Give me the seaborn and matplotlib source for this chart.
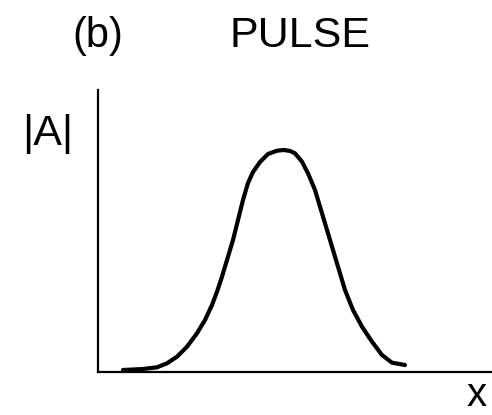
import matplotlib
matplotlib.use("Agg")
import matplotlib.pyplot as plt
import seaborn as sns
import pandas as pd

# Pulse profile (arbitrary units: position, |A|)
pos = [25, 45, 59, 69, 79, 89, 99, 107, 114, 119, 124, 129, 135, 140, 145, 150, 155,
       162, 170, 179, 186, 192, 197, 204, 210, 217, 222, 227, 232, 237, 241, 247, 255,
       264, 274, 284, 294, 307]
amp = [2, 3, 4.7, 8.7, 15.3, 25.3, 38.7, 52, 67, 80.3, 95.3, 112, 132, 152, 172, 189, 200,
       210, 218, 221.3, 222, 221, 218.7, 210.3, 198.7, 182, 165.3, 148.7, 132, 115.3, 102, 82, 62,
       45.3, 30.3, 17, 9.3, 7]

panel_label = "(b)"
title = "PULSE"
ylabel = "|A|"
xlabel = "x"

sns.set_style("white")
plt.rcParams["font.family"] = ["Liberation Sans", "DejaVu Sans"]

W, H = 492, 415
fig = plt.figure(figsize=(W / 100, H / 100), dpi=100)
ax = fig.add_axes([98 / W, (H - 372) / H, 394 / W, 282 / H])

df = pd.DataFrame({"pos": pos, "amp": amp})
sns.lineplot(data=df, x="pos", y="amp", ax=ax, color="black", linewidth=3.0,
             solid_capstyle="round", solid_joinstyle="round", clip_on=False)

ax.set_xlim(0, 394)
ax.set_ylim(0, 282)
ax.set_xticks([])
ax.set_yticks([])
ax.set_xlabel("")
ax.set_ylabel("")
for s in ["top", "right"]:
    ax.spines[s].set_visible(False)
for s in ["left", "bottom"]:
    ax.spines[s].set_color("black")
    ax.spines[s].set_linewidth(1.6)

txt = dict(color="black", va="baseline")
fig.text(98 / W, 1 - 47 / H, panel_label, ha="center", fontsize=30, **txt)
fig.text(300 / W, 1 - 47 / H, title, ha="center", fontsize=31, **txt)
fig.text(48 / W, 1 - 145 / H, ylabel, ha="center", fontsize=31, **txt)
fig.text(487 / W, 1 - 406 / H, xlabel, ha="right", fontsize=29, **txt)

fig.savefig("out.png", dpi=100, facecolor="white")
